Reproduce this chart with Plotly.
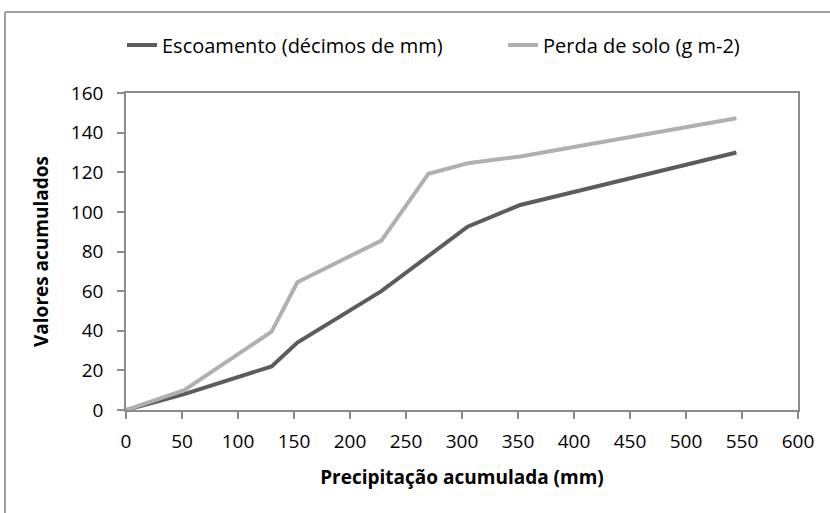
import plotly.graph_objects as go

# Data
precip = [0, 52, 130, 153, 228, 270, 305, 352, 545]
escoamento = [0, 8, 22, 34, 60, 77.5, 92.5, 103.5, 130]
perda_solo = [0, 10, 39.5, 64.5, 85.5, 119.2, 124.5, 128, 147.3]

x_ticks = list(range(0, 601, 50))
y_ticks = list(range(0, 161, 20))

FONT = "Open Sans, Liberation Sans, sans-serif"

fig = go.Figure()
fig.add_trace(go.Scatter(
    x=precip, y=escoamento, mode="lines",
    name="Escoamento (décimos de mm)",
    line=dict(color="#5c5c5c", width=4),
    legend="legend",
))
fig.add_trace(go.Scatter(
    x=precip, y=perda_solo, mode="lines",
    name="Perda de solo (g m-2)",
    line=dict(color="#b0b0b0", width=4),
    legend="legend2",
))

W, H = 830, 513
L, R, T, B = 126, 32, 93, 103
pw, ph = W - L - R, H - T - B

def px_x(p):
    return (p - L) / pw

def px_y(p):
    return (H - B - p) / ph

legend_common = dict(
    orientation="h", xref="container", yref="container",
    xanchor="left", y=1 - 45 / H, yanchor="middle",
    font=dict(family=FONT, size=20, color="black"),
    bgcolor="rgba(0,0,0,0)",
)

fig.update_layout(
    width=W, height=H,
    margin=dict(l=L, r=R, t=T, b=B, autoexpand=False),
    paper_bgcolor="white", plot_bgcolor="white",
    font=dict(family=FONT, size=20, color="black"),
    showlegend=True,
    legend=dict(x=122 / W, **legend_common),
    legend2=dict(x=503 / W, **legend_common),
    xaxis=dict(
        range=[0, 600], tickmode="array", tickvals=x_ticks,
        showgrid=False, zeroline=False, automargin=False,
        showline=True, linecolor="#8c8c8c", linewidth=1.5, mirror=True,
        ticks="outside", ticklen=7, tickcolor="#8c8c8c", tickwidth=1.5,
        tickfont=dict(family=FONT, size=19), ticklabelstandoff=6,
        title=dict(text="<b>Precipitação acumulada (mm)</b>",
                   font=dict(family=FONT, size=19), standoff=18),
    ),
    yaxis=dict(
        range=[0, 160], tickmode="array", tickvals=y_ticks,
        showgrid=False, zeroline=False, automargin=False,
        showline=True, linecolor="#8c8c8c", linewidth=1.5, mirror=True,
        ticks="outside", ticklen=7, tickcolor="#8c8c8c", tickwidth=1.5,
        tickfont=dict(family=FONT, size=19), ticklabelstandoff=10,
        title=dict(text="<b>Valores acumulados</b>",
                   font=dict(family=FONT, size=19), standoff=17),
    ),
    shapes=[
        dict(type="line", xref="paper", yref="paper",
             x0=px_x(5), x1=px_x(5), y0=px_y(H + 5), y1=px_y(12),
             line=dict(color="#a0a0a0", width=2)),
        dict(type="line", xref="paper", yref="paper",
             x0=px_x(5), x1=px_x(W + 5), y0=px_y(12), y1=px_y(12),
             line=dict(color="#a0a0a0", width=2)),
    ],
)

fig.write_html(
    "out.html",
    config={"displayModeBar": False},
    post_script="document.body.style.margin='0';",
)
